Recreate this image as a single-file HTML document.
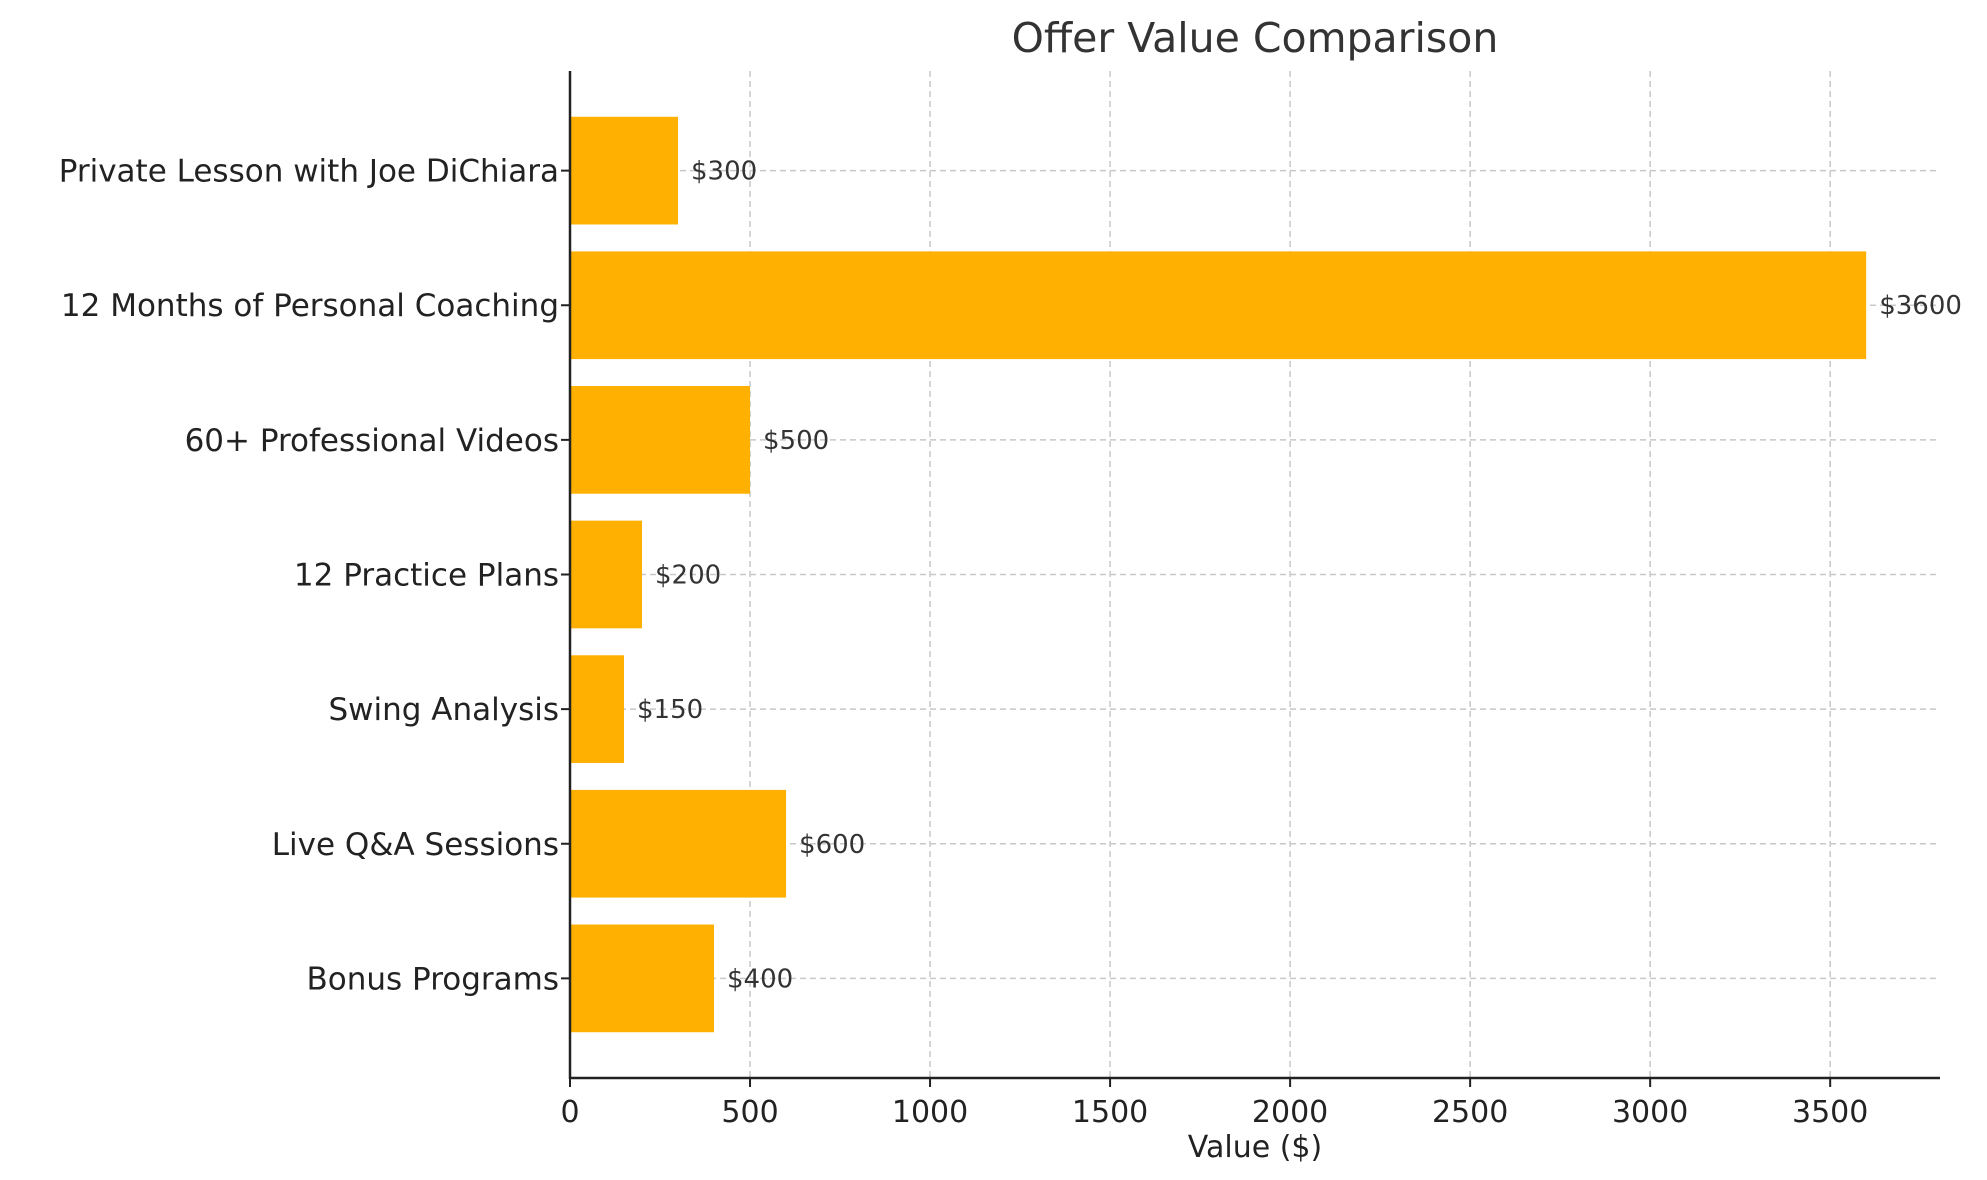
<!DOCTYPE html>
<html><head><meta charset="utf-8"><style>
html,body{margin:0;padding:0;background:#fff;}
svg{display:block;font-family:"DejaVu Sans","Liberation Sans",sans-serif;}
</style></head><body>
<svg id="chart" width="1987" height="1180" viewBox="0 0 1987 1180">
<text x="1255" y="52" font-size="41" fill="#333" text-anchor="middle">Offer Value Comparison</text>
<g id="grid"></g>
<g id="bars"></g>
<g id="axes"></g>
<text x="1255" y="1157" font-size="30" fill="#222" text-anchor="middle">Value ($)</text>
</svg>
<script>
const categories = ["Private Lesson with Joe DiChiara","12 Months of Personal Coaching","60+ Professional Videos","12 Practice Plans","Swing Analysis","Live Q&A Sessions","Bonus Programs"];
const values = [300,3600,500,200,150,600,400];
const xTicks = [0,500,1000,1500,2000,2500,3000,3500];
const valueLabels = ["$300","$3600","$500","$200","$150","$600","$400"];

const NS="http://www.w3.org/2000/svg";
const X0=570, X1=1940, XMAX=3805, YT=71, YB=1078;
const n=categories.length;
const yMin=-0.74, yMax=n-1+0.74;
function xs(v){return X0+(v/XMAX)*(X1-X0);}
function ys(i){const pos=n-1-i;return YB-(pos-yMin)/(yMax-yMin)*(YB-YT);}
const band=(YB-YT)/(yMax-yMin);
function mk(tag,attrs,parent){const e=document.createElementNS(NS,tag);for(const k in attrs)e.setAttribute(k,attrs[k]);parent.appendChild(e);return e;}
const grid=document.getElementById('grid'),bars=document.getElementById('bars'),axes=document.getElementById('axes');
xTicks.forEach(t=>{
  const x=xs(t);
  const l=mk('line',{x1:x,x2:x,y1:YT,y2:YB,stroke:'#c8c8c8','stroke-width':1.5,'stroke-dasharray':'6,4'},grid);
  
  
  const tk=mk('line',{x1:x,x2:x,y1:YB,y2:YB+9,stroke:'#222','stroke-width':2},axes);
  
  
  const tx=mk('text',{x:x,y:YB+44,'font-size':30,fill:'#222','text-anchor':'middle'},axes);
  tx.textContent=t;
  
  
});
categories.forEach((c,i)=>{
  const y=ys(i);
  const gl=mk('line',{x1:X0,x2:X1,y1:y,y2:y,stroke:'#c8c8c8','stroke-width':1.5,'stroke-dasharray':'6,4'},grid);
  
  
  const h=band*0.8;
  const r=mk('rect',{x:X0,y:y-h/2,width:xs(values[i])-X0,height:h,fill:'#ffb000'},bars);
  
  
  const vl=mk('text',{x:xs(values[i])+13,y:y+9,'font-size':26,fill:'#333'},bars);
  vl.textContent=valueLabels[i];
  
  
  const tk=mk('line',{x1:X0-9,x2:X0,y1:y,y2:y,stroke:'#222','stroke-width':2},axes);
  
  
  const tl=mk('text',{x:X0-11,y:y+11,'font-size':31,fill:'#222','text-anchor':'end'},axes);
  tl.textContent=c;
  
  
});
const ya=mk('line',{x1:X0,x2:X0,y1:YT,y2:YB+1,stroke:'#222','stroke-width':2.5},axes);


const xa=mk('line',{x1:X0-1,x2:X1,y1:YB,y2:YB,stroke:'#222','stroke-width':2.5},axes);


</script>
</body></html>
